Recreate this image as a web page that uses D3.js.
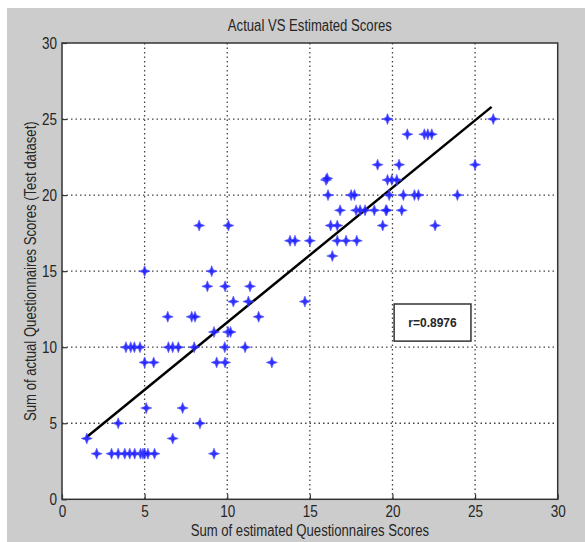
<!DOCTYPE html>
<html>
<head>
<meta charset="utf-8">
<script src="https://cdn.jsdelivr.net/npm/d3@7"></script>
<style>
  body { margin: 0; background: #fff; }
  svg { display: block; }
  text { font-family: "Liberation Sans", Arial, sans-serif; fill: #262626; }
</style>
</head>
<body>
<div id="chart"></div>
<script>
// estimated scores (x) and actual scores (y)
var estimated = [
  2.1, 3.0, 3.4, 3.8, 4.1, 4.4, 4.75, 4.9, 5.0, 5.2, 5.6, 9.2,
  1.5, 6.7,
  3.4, 8.35,
  5.1, 7.3,
  5.0, 5.55, 9.36, 9.87, 12.7,
  3.87, 4.16, 4.38, 4.72, 6.44, 6.7, 7.04, 8.0, 9.85, 11.08,
  9.2, 10.05, 10.2,
  6.4, 7.85, 8.05, 11.9,
  10.37, 11.28, 14.7,
  8.8, 9.87, 11.38,
  5.0, 9.06,
  16.36,
  13.8, 14.1, 15.0, 16.66, 17.19, 17.84,
  8.3, 10.07, 16.26, 16.66, 19.41, 22.58,
  16.83, 17.8, 18.04, 18.34, 18.9, 19.6, 19.65, 20.56,
  16.1, 17.5, 17.7, 19.8, 20.66, 21.33, 21.57, 23.93,
  15.98, 16.05, 19.7, 19.96, 20.26,
  19.1, 20.4, 25.0,
  20.9, 21.93, 22.14, 22.38,
  19.7, 26.1
];
var actual = [
  3, 3, 3, 3, 3, 3, 3, 3, 3, 3, 3, 3,
  4, 4,
  5, 5,
  6, 6,
  9, 9, 9, 9, 9,
  10, 10, 10, 10, 10, 10, 10, 10, 10, 10,
  11, 11, 11,
  12, 12, 12, 12,
  13, 13, 13,
  14, 14, 14,
  15, 15,
  16,
  17, 17, 17, 17, 17, 17,
  18, 18, 18, 18, 18, 18,
  19, 19, 19, 19, 19, 19, 19, 19,
  20, 20, 20, 20, 20, 20, 20, 20,
  21, 21.1, 21, 21, 21,
  22, 22, 22,
  24, 24, 24, 24,
  25, 25
];
// fitted line end points
var fitX = [1.5, 26.0];
var fitY = [4.1, 25.8];
var xTicks = [0, 5, 10, 15, 20, 25, 30];
var yTicks = [0, 5, 10, 15, 20, 25, 30];
var rLabel = "r=0.8976";

var W = 585, H = 542;
var pl = 62, pr = 557.7, pt = 43, pb = 499.3;
var sq = 0.82; // the picture text is squeezed sideways

var svg = d3.select("#chart").append("svg")
    .attr("width", W).attr("height", H);

// figure background
svg.append("rect").attr("x", 7).attr("y", 8)
    .attr("width", W - 7).attr("height", H - 8)
    .attr("fill", "#cccccc");

var x = d3.scaleLinear().domain([0, 30]).range([pl, pr]);
var y = d3.scaleLinear().domain([0, 30]).range([pb, pt]);

svg.append("rect").attr("x", pl).attr("y", pt)
    .attr("width", pr - pl).attr("height", pb - pt)
    .attr("fill", "#fff");

// dotted grid
var grid = svg.append("g").attr("stroke", "#444").attr("stroke-width", 1.3)
    .attr("stroke-dasharray", "1.5,3");
grid.selectAll(".gx").data(xTicks.slice(1, -1)).enter().append("line")
    .attr("x1", d => x(d)).attr("x2", d => x(d))
    .attr("y1", pt).attr("y2", pb);
grid.selectAll(".gy").data(yTicks.slice(1, -1)).enter().append("line")
    .attr("y1", d => y(d)).attr("y2", d => y(d))
    .attr("x1", pl).attr("x2", pr);

// axes (ticks inside, matlab style)
var xAxis = svg.append("g").attr("transform", "translate(0," + pb + ")")
    .call(d3.axisBottom(x).tickValues(xTicks).tickSize(-5).tickPadding(6).tickFormat(d3.format("d")));
var yAxis = svg.append("g").attr("transform", "translate(" + pl + ",0)")
    .call(d3.axisLeft(y).tickValues(yTicks).tickSize(-5).tickPadding(5).tickFormat(d3.format("d")));
[xAxis, yAxis].forEach(function(a) {
  a.select(".domain").remove();
  a.selectAll(".tick line").attr("stroke", "#333").attr("stroke-width", 1.2);
  a.selectAll(".tick text").attr("font-size", 16.5).attr("fill", "#262626")
    .attr("transform", "scale(" + sq + ",1)");
});
yAxis.selectAll(".tick text").attr("x", -5 / sq);

// box
svg.append("rect").attr("x", pl).attr("y", pt)
    .attr("width", pr - pl).attr("height", pb - pt)
    .attr("fill", "none").attr("stroke", "#333").attr("stroke-width", 1.5);

// fitted line
svg.append("line")
    .attr("x1", x(fitX[0])).attr("y1", y(fitY[0]))
    .attr("x2", x(fitX[1])).attr("y2", y(fitY[1]))
    .attr("stroke", "#000").attr("stroke-width", 2.5);

// star markers
var star = "M0,-5.5L1.5,-1.5L5.5,0L1.5,1.5L0,5.5L-1.5,1.5L-5.5,0L-1.5,-1.5Z";
svg.append("g").selectAll("path").data(d3.range(estimated.length)).enter()
    .append("path")
    .attr("d", star)
    .attr("transform", i => "translate(" + x(estimated[i]) + "," + y(actual[i]) + ")")
    .attr("fill", "#1a1aff").attr("stroke", "#4d4dff").attr("stroke-width", 0.7)
    .attr("opacity", 0.9);

// r box
var bx0 = x(20.1), bx1 = x(24.75), by0 = y(12.84), by1 = y(10.4);
svg.append("rect").attr("x", bx0).attr("y", by0)
    .attr("width", bx1 - bx0).attr("height", by1 - by0)
    .attr("fill", "#fff").attr("stroke", "#333").attr("stroke-width", 1.5);
svg.append("text").attr("x", (bx0 + bx1) / 2).attr("y", (by0 + by1) / 2 + 4)
    .attr("text-anchor", "middle").attr("font-size", 12).attr("font-weight", "bold")
    .text(rLabel);

// title and axis labels, squeezed like the source
function label(px, py, rot, str) {
  svg.append("g")
    .attr("transform", "translate(" + px + "," + py + ") rotate(" + rot + ")")
    .append("text")
    .attr("transform", "scale(" + sq + ",1)")
    .attr("text-anchor", "middle").attr("font-size", 16)
    .text(str);
}
label((pl + pr) / 2, 31, 0, "Actual VS Estimated Scores");
label((pl + pr) / 2, 536, 0, "Sum of estimated Questionnaires Scores");
label(36, (pt + pb) / 2, -90, "Sum of actual Questionnaires Scores (Test dataset)");
</script>
</body>
</html>
